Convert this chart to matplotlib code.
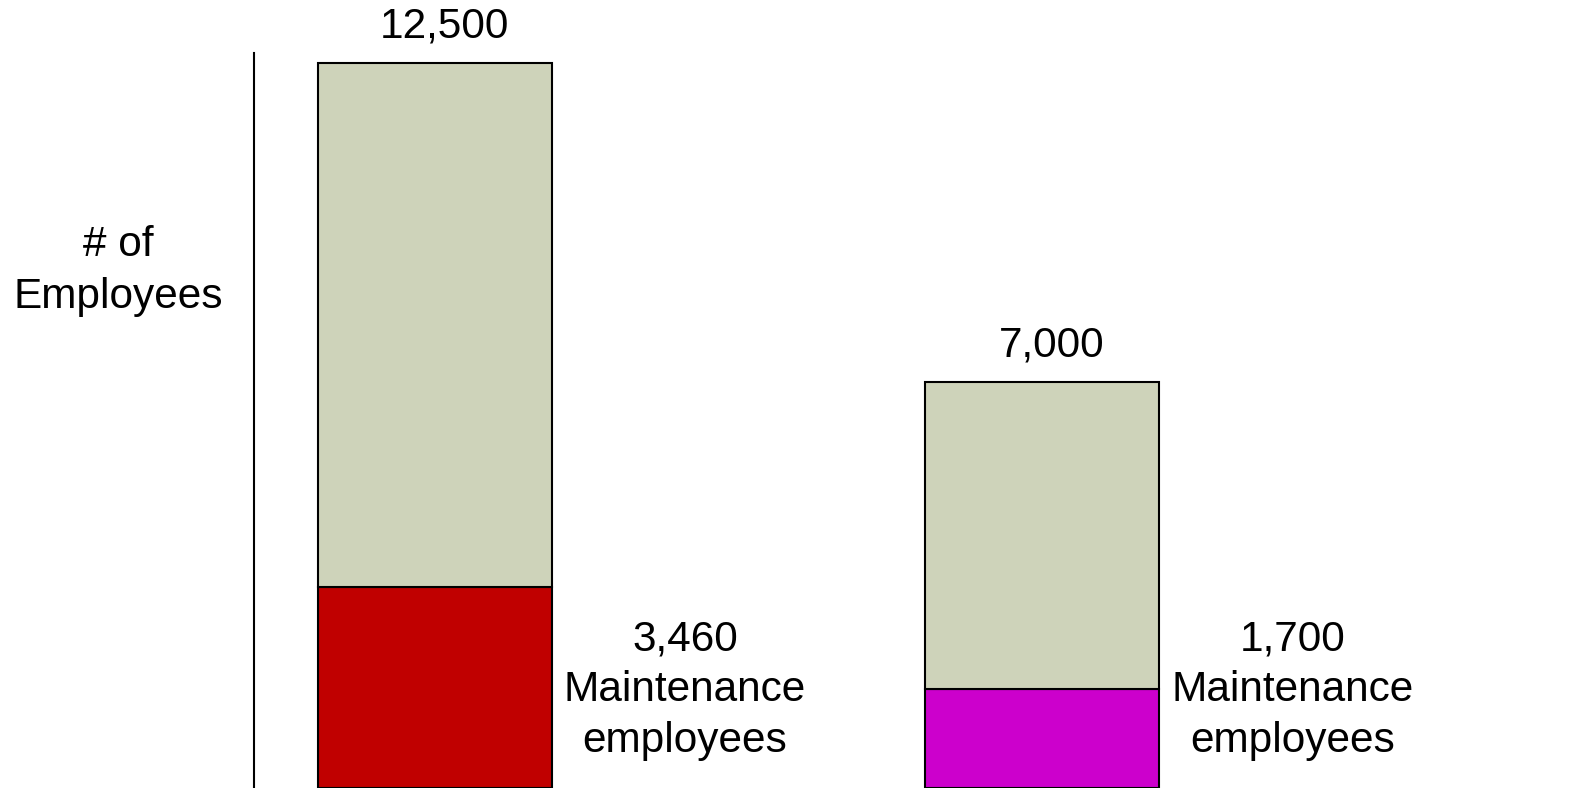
import matplotlib
matplotlib.use("Agg")
import matplotlib.pyplot as plt
import matplotlib.transforms as mtransforms

# data
totals = [12500, 7000]
maintenance = [3460, 1700]
total_labels = ["12,500", "7,000"]
maint_labels = ["3,460\nMaintenance\nemployees", "1,700\nMaintenance\nemployees"]
maint_colors = ["#C00000", "#CC00CC"]
other_color = "#CED3BA"

plt.rcParams['font.family'] = ['Liberation Sans', 'DejaVu Sans']

fig = plt.figure(figsize=(15.71, 7.88), dpi=100)
ax = fig.add_axes([254 / 1571, 0, 1 - 254 / 1571, 735 / 788])

x = [0, 1]
width = 0.3855
others = [t - m for t, m in zip(totals, maintenance)]
ax.bar(x, maintenance, width, color=maint_colors, edgecolor="black", linewidth=1.5)
ax.bar(x, others, width, bottom=maintenance, color=other_color,
       edgecolor="black", linewidth=1.5)

ax.set_xlim(-0.298, 1.871)
ax.set_ylim(0, 12672)

fs = 30.5
for i in range(len(totals)):
    ax.annotate(total_labels[i], (x[i] + 0.015, totals[i]), xytext=(0, 12),
                textcoords="offset points", ha="center", va="bottom", fontsize=fs)
    trans = mtransforms.blended_transform_factory(ax.transData, ax.transAxes)
    ax.text(x[i] + 0.412, 0.133, maint_labels[i], transform=trans,
            ha="center", va="center", fontsize=fs, linespacing=1.36)

fig.text(118 / 1571, 1 - 271 / 788, "# of\nEmployees", ha="center", va="center",
         fontsize=fs, linespacing=1.36)

for s in ["top", "right", "bottom"]:
    ax.spines[s].set_visible(False)
ax.spines["left"].set_linewidth(1.5)
ax.set_xticks([])
ax.set_yticks([])

fig.savefig("out.png", dpi=100)
